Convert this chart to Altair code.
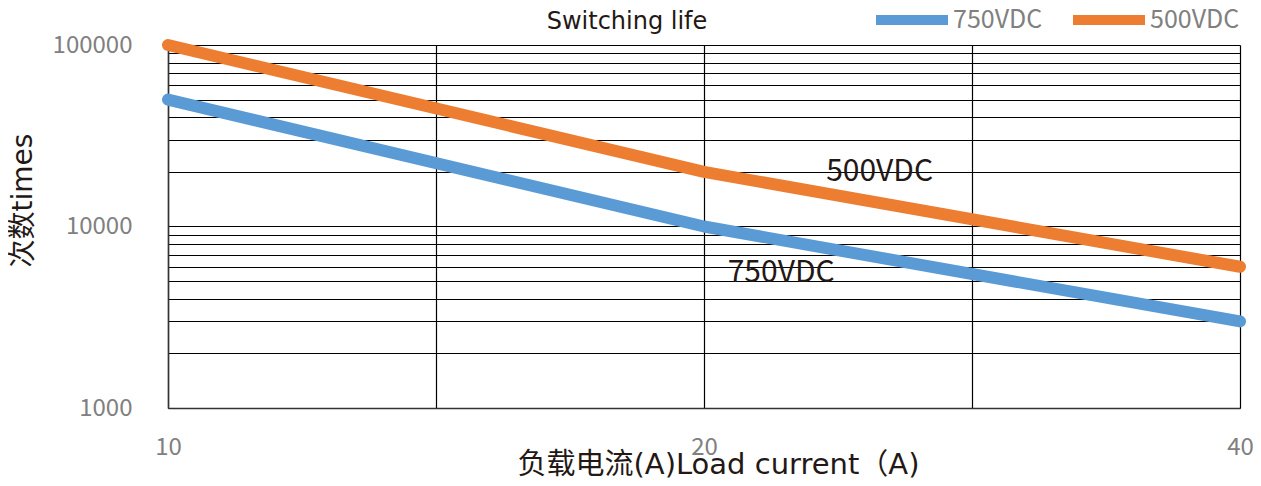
import altair as alt
import pandas as pd

# Data
currents = [10, 20, 40]
life_750 = [50000, 10000, 3000]
life_500 = [100000, 20000, 6000]
series_names = ["750VDC", "500VDC"]
series_colors = ["#5B9BD5", "#ED7D31"]

x_grid = [10, 14.142, 20, 28.284, 40]
y_grid = [1000, 2000, 3000, 4000, 5000, 6000, 7000, 8000, 9000,
          10000, 20000, 30000, 40000, 50000, 60000, 70000, 80000, 90000, 100000]

ann_text = ["500VDC", "750VDC"]
ann_x = [25.1, 22.1]
ann_y = [20000, 5550]

rows = []
for c, v in zip(currents, life_750):
    rows.append({"current": c, "life": v, "series": "750VDC"})
for c, v in zip(currents, life_500):
    rows.append({"current": c, "life": v, "series": "500VDC"})
df = pd.DataFrame(rows)
ann = pd.DataFrame({"x": ann_x, "y": ann_y, "t": ann_text})

FONT = "Noto Sans CJK SC"
TFONT = "DejaVu Sans, Noto Sans CJK SC"

x_scale = alt.Scale(type="log", base=2, domain=[10, 40], nice=False)
y_scale = alt.Scale(type="log", domain=[1000, 100000], nice=False)

x_lab_expr = "abs(datum.value - round(datum.value)) < 0.001 ? format(datum.value, 'd') : ''"
y_lab_expr = "(datum.value == 1000 || datum.value == 10000 || datum.value == 100000) ? format(datum.value, 'd') : ''"

lines = alt.Chart(df).mark_line(strokeWidth=12, strokeCap="round", strokeJoin="round", clip=False).encode(
    x=alt.X("current:Q", scale=x_scale,
            axis=alt.Axis(values=x_grid, labelExpr=x_lab_expr, grid=True, ticks=False,
                          title="负载电流(A)Load current（A)", titleFont=TFONT, titleFontSize=29,
                          titleFontWeight="normal", titleColor="#231815",
                          titleX=550, titleY=65, titleBaseline="alphabetic", titleAlign="center",
                          labelFont=FONT, labelFontSize=24, labelColor="#808080", labelPadding=27,
                          labelOverlap=False, labelBound=False, labelFlush=False)),
    y=alt.Y("life:Q", scale=y_scale,
            axis=alt.Axis(values=y_grid, labelExpr=y_lab_expr, grid=True, ticks=False,
                          title="次数times", titleFont=TFONT, titleFontSize=28,
                          titleFontWeight="normal", titleColor="#231815",
                          titleAngle=-90, titleX=-145, titleY=155, titleAlign="center",
                          titleBaseline="middle",
                          labelFont=FONT, labelFontSize=24, labelColor="#808080", labelPadding=36,
                          labelOverlap=False, labelBound=False, labelFlush=False)),
    color=alt.Color("series:N", scale=alt.Scale(domain=series_names, range=series_colors),
                    legend=alt.Legend(orient="none", legendX=703, legendY=-66, direction="horizontal",
                                      title=None, symbolType="stroke", symbolSize=5184,
                                      symbolStrokeWidth=10, labelFont=FONT, labelFontSize=25,
                                      labelColor="#808080", labelOffset=0, columnPadding=10)),
    order=alt.Order("current:Q"),
)

labels = alt.Chart(ann).mark_text(font=FONT, fontSize=30, color="#231815", baseline="middle", align="center").encode(
    x=alt.X("x:Q", scale=x_scale),
    y=alt.Y("y:Q", scale=y_scale),
    text="t:N",
)

chart = alt.layer(lines, labels).properties(
    width=1072, height=363,
    autosize=alt.AutoSizeParams(type="none"),
    padding={"left": 160, "top": 37, "right": 13, "bottom": 70},
    title=alt.TitleParams(text=["负载电流与寿命曲线图", "Switching life"], font=TFONT, fontSize=24,
                          fontWeight="normal", color="#231815", anchor="middle", dx=-77, dy=90,
                          baseline="bottom", offset=11, lineHeight=28),
).configure_view(stroke=None).configure_axis(
    gridColor="#000000", gridWidth=1.2, gridOpacity=1, domainColor="#333333", domainWidth=1.5
)

chart.save("out.html", embed_options={"renderer": "svg", "actions": False})
